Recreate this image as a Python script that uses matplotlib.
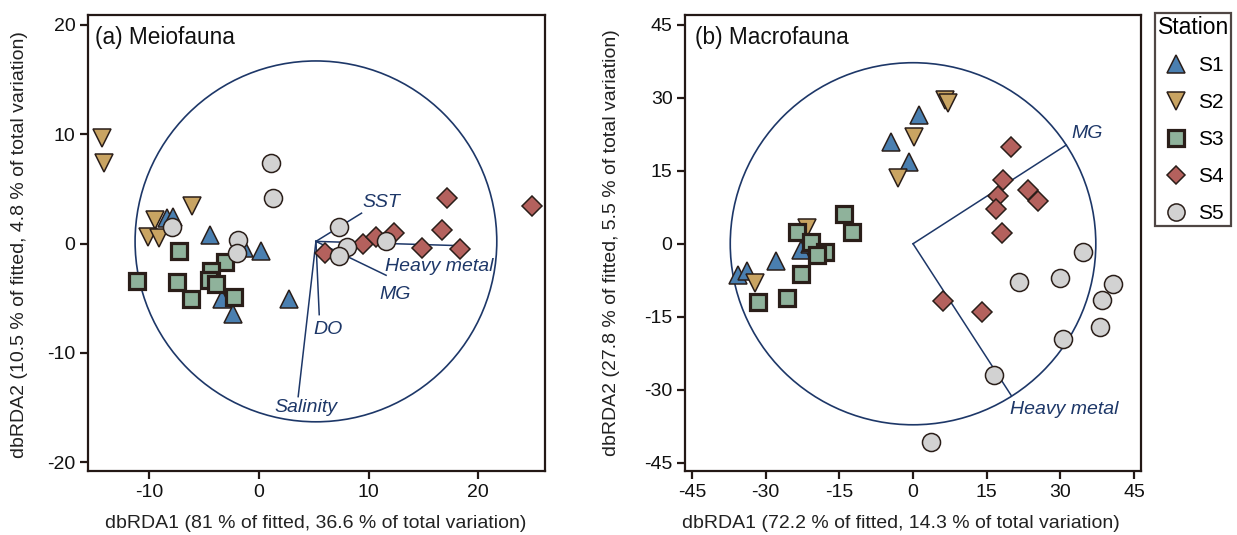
import matplotlib
matplotlib.use("Agg")
import matplotlib.pyplot as plt
from matplotlib.patches import Circle
from matplotlib.lines import Line2D

plt.rcParams['font.family'] = ['Liberation Sans', 'DejaVu Sans']
plt.rcParams['axes.unicode_minus'] = False

# ---------------- data ----------------
stations = ["S1", "S2", "S3", "S4", "S5"]
markers = ["^", "v", "s", "D", "o"]
face_colors = ["#4a7fb0", "#c9a462", "#8fb29b", "#b4615d", "#d2d2d2"]

# (a) Meiofauna scores
meio_x = {
    "S1": [-8.4, -7.8, -4.5, 0.2, 2.7, -3.4, -2.4, -1.4],
    "S2": [-14.3, -14.1, -6.1, -9.5, -10.1, -9.1],
    "S3": [-11.15, -7.3, -7.45, -6.2, -3.1, -4.4, -4.6, -3.9, -2.3],
    "S4": [17.2, 24.9, 16.7, 6.0, 9.5, 10.7, 12.3, 14.9, 18.3],
    "S5": [1.07, 1.25, -7.9, -1.9, -2.0, 7.3, 8.05, 7.3, 11.6],
}
meio_y = {
    "S1": [2.3, 2.4, 0.8, -0.7, -5.1, -5.1, -6.4, -0.4],
    "S2": [9.7, 7.4, 3.45, 2.2, 0.6, 0.5],
    "S3": [-3.4, -0.7, -3.5, -5.1, -1.7, -2.5, -3.3, -3.7, -4.9],
    "S4": [4.2, 3.4, 1.25, -0.9, 0.0, 0.6, 0.95, -0.45, -0.5],
    "S5": [7.4, 4.2, 1.55, 0.3, -0.9, 1.5, -0.3, -1.1, 0.2],
}
meio_origin = (5.2, 0.2)
meio_circle_r = 16.5
meio_vec_names = ["SST", "Heavy metal", "MG", "DO", "Salinity"]
meio_vec_x = [9.36, 18.6, 11.6, 5.5, 3.58]
meio_vec_y = [2.78, -0.2, -2.9, -6.5, -14.0]
meio_lab_x = [9.4, 11.5, 11.0, 5.0, 1.45]
meio_lab_y = [3.75, -2.1, -4.7, -7.9, -15.0]

# (b) Macrofauna scores
macro_x = {
    "S1": [1.3, -4.5, -0.8, -27.9, -35.6, -33.7, -22.7, -21.0],
    "S2": [6.5, 7.2, 0.2, -3.1, -32.2, -21.6],
    "S3": [-14.0, -12.5, -23.7, -20.8, -17.9, -19.6, -22.9, -25.7, -31.6],
    "S4": [20.0, 18.3, 17.2, 16.8, 23.5, 25.5, 18.1, 6.2, 14.0],
    "S5": [34.6, 21.6, 29.9, 40.7, 38.4, 38.1, 30.5, 16.5, 3.7],
}
macro_y = {
    "S1": [26.5, 20.9, 16.9, -3.6, -6.4, -5.7, -1.2, 0.0],
    "S2": [29.6, 29.0, 22.0, 13.5, -8.1, 3.2],
    "S3": [6.2, 2.5, 2.5, 0.35, -1.6, -2.3, -6.2, -11.1, -12.0],
    "S4": [19.8, 13.0, 9.9, 7.1, 11.1, 8.7, 2.2, -11.7, -14.1],
    "S5": [-1.7, -7.9, -7.1, -8.2, -11.6, -17.1, -19.6, -26.9, -40.8],
}
macro_origin = (0.0, 0.0)
macro_circle_r = 37.2
macro_vec_names = ["MG", "Heavy metal"]
macro_vec_x = [31.2, 20.0]
macro_vec_y = [20.3, -31.2]
macro_lab_x = [32.3, 19.8]
macro_lab_y = [22.6, -34.1]

meio_xticks = [-10, 0, 10, 20]
meio_yticks = [-20, -10, 0, 10, 20]
macro_ticks = [-45, -30, -15, 0, 15, 30, 45]

# ---------------- style ----------------
NAVY = "#1d3768"
EDGE = "#2a1e19"
SPINE = "#231815"
msize = {"^": 13.5, "v": 13.5, "s": 12, "D": 9.8, "o": 13}
mew = {"^": 1.1, "v": 1.1, "s": 2.3, "D": 1.1, "o": 1.1}

fig = plt.figure(figsize=(12.37, 5.35), dpi=100)
axA = fig.add_axes([0.0711, 0.1196, 0.3695, 0.8523])
axB = fig.add_axes([0.5538, 0.1196, 0.3686, 0.8523])


def style_axes(ax):
    for s in ax.spines.values():
        s.set_linewidth(1.6)
        s.set_color(SPINE)
    ax.tick_params(direction="out", length=6, width=1.6, color=SPINE,
                   labelsize=14, pad=3, labelcolor="#111111")


def draw_points(ax, xs, ys):
    for st, mk, fc in zip(stations, markers, face_colors):
        ax.plot(xs[st], ys[st], linestyle="none", marker=mk, ms=msize[mk],
                mfc=fc, mec=EDGE, mew=mew[mk], zorder=3)


def draw_vectors(ax, origin, vx, vy, names, lx, ly, r):
    ax.add_patch(Circle(origin, r, fill=False, ec=NAVY, lw=1.2, zorder=2))
    for x, y, n, tx, ty in zip(vx, vy, names, lx, ly):
        ax.plot([origin[0], x], [origin[1], y], color=NAVY, lw=1.1, zorder=2)
        ax.text(tx, ty, n, color=NAVY, style="italic", fontsize=14,
                ha="left", va="center", zorder=4)


# panel (a)
draw_vectors(axA, meio_origin, meio_vec_x, meio_vec_y, meio_vec_names,
             meio_lab_x, meio_lab_y, meio_circle_r)
draw_points(axA, meio_x, meio_y)
axA.set_xlim(-15.6, 26.1)
axA.set_ylim(-20.8, 20.9)
axA.set_xticks(meio_xticks)
axA.set_yticks(meio_yticks)
style_axes(axA)
axA.text(0.016, 0.95, "(a) Meiofauna", transform=axA.transAxes, fontsize=16.3,
         ha="left", va="center", color="#111111")

# panel (b)
draw_vectors(axB, macro_origin, macro_vec_x, macro_vec_y, macro_vec_names,
             macro_lab_x, macro_lab_y, macro_circle_r)
draw_points(axB, macro_x, macro_y)
axB.set_xlim(-46.4, 46.4)
axB.set_ylim(-46.7, 47.0)
axB.set_xticks(macro_ticks)
axB.set_yticks(macro_ticks)
style_axes(axB)
axB.text(0.022, 0.95, "(b) Macrofauna", transform=axB.transAxes, fontsize=16.3,
         ha="left", va="center", color="#111111")

# axis labels
lab_kw = dict(fontsize=14, color="#222222", ha="center", va="center")
fig.text(316 / 1237, 1 - 524 / 535,
         "dbRDA1 (81 % of fitted, 36.6 % of total variation)", **lab_kw)
fig.text(20 / 1237, 1 - 245 / 535,
         "dbRDA2 (10.5 % of fitted, 4.8 % of total variation)", rotation=90, **lab_kw)
fig.text(901 / 1237, 1 - 524 / 535,
         "dbRDA1 (72.2 % of fitted, 14.3 % of total variation)", **lab_kw)
fig.text(612 / 1237, 1 - 243 / 535,
         "dbRDA2 (27.8 % of fitted, 5.5 % of total variation)", rotation=90, **lab_kw)

# legend
handles = [Line2D([], [], linestyle="none", marker=mk, ms=msize[mk] * 0.95,
                  mfc=fc, mec=EDGE, mew=mew[mk])
           for mk, fc in zip(markers, face_colors)]
leg = fig.legend(handles, stations, title="Station", loc="upper left",
                 bbox_to_anchor=(1155 / 1237, 1 - 13 / 535), frameon=True,
                 fontsize=15, title_fontsize=16.5, handletextpad=0.45,
                 labelspacing=0.86, borderpad=0.12, handlelength=1.3,
                 fancybox=False, borderaxespad=0)
leg.get_frame().set_edgecolor(SPINE)
leg.get_frame().set_linewidth(1.6)

fig.savefig("out.png", dpi=100)
